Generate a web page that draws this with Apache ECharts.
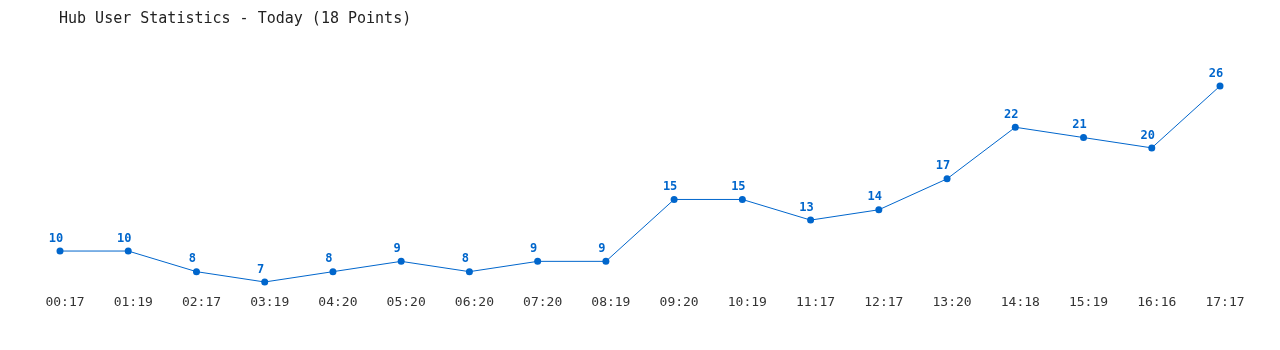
<!DOCTYPE html>
<html>
<head>
<meta charset="utf-8">
<script src="https://cdn.jsdelivr.net/npm/echarts@6/dist/echarts.min.js"></script>
<style>
html,body{margin:0;padding:0;background:#fff;}
#chart{width:1280px;height:350px;}
</style>
</head>
<body>
<div id="chart"></div>
<script>
const categories = ["00:17","01:19","02:17","03:19","04:20","05:20","06:20","07:20","08:19","09:20","10:19","11:17","12:17","13:20","14:18","15:19","16:16","17:17"];
const users = [10,10,8,7,8,9,8,9,9,15,15,13,14,17,22,21,20,26];
const titleText = "Hub User Statistics - Today (18 Points)";

const chart = echarts.init(document.getElementById('chart'), null, {renderer:'canvas'});
chart.setOption({
  animation:false,
  backgroundColor:'#ffffff',
  title:{
    text:titleText,
    left:54, top:7,
    textStyle:{fontFamily:'DejaVu Sans Mono', fontSize:15, fontWeight:'normal', color:'#222'}
  },
  grid:{left:60, right:60, top:86, bottom:57.7, containLabel:false},
  xAxis:{
    type:'category',
    data:categories,
    boundaryGap:false,
    axisLine:{show:false},
    axisTick:{show:false},
    splitLine:{show:false},
    axisLabel:{margin:4, interval:0, padding:[0,0,0,10], fontFamily:'DejaVu Sans Mono', fontSize:13, color:'#333'}
  },
  yAxis:{
    type:'value',
    min:6, max:26,
    show:false,
    splitLine:{show:false}
  },
  series:[{
    type:'line',
    data:users,
    symbol:'circle',
    symbolSize:7,
    lineStyle:{color:'#0066cc', width:1},
    itemStyle:{color:'#0066cc'},
    label:{show:true, position:'top', distance:3, offset:[-4,0], fontFamily:'DejaVu Sans Mono', fontSize:12, fontWeight:'bold', color:'#0066cc'}
  }]
});
</script>
</body>
</html>
